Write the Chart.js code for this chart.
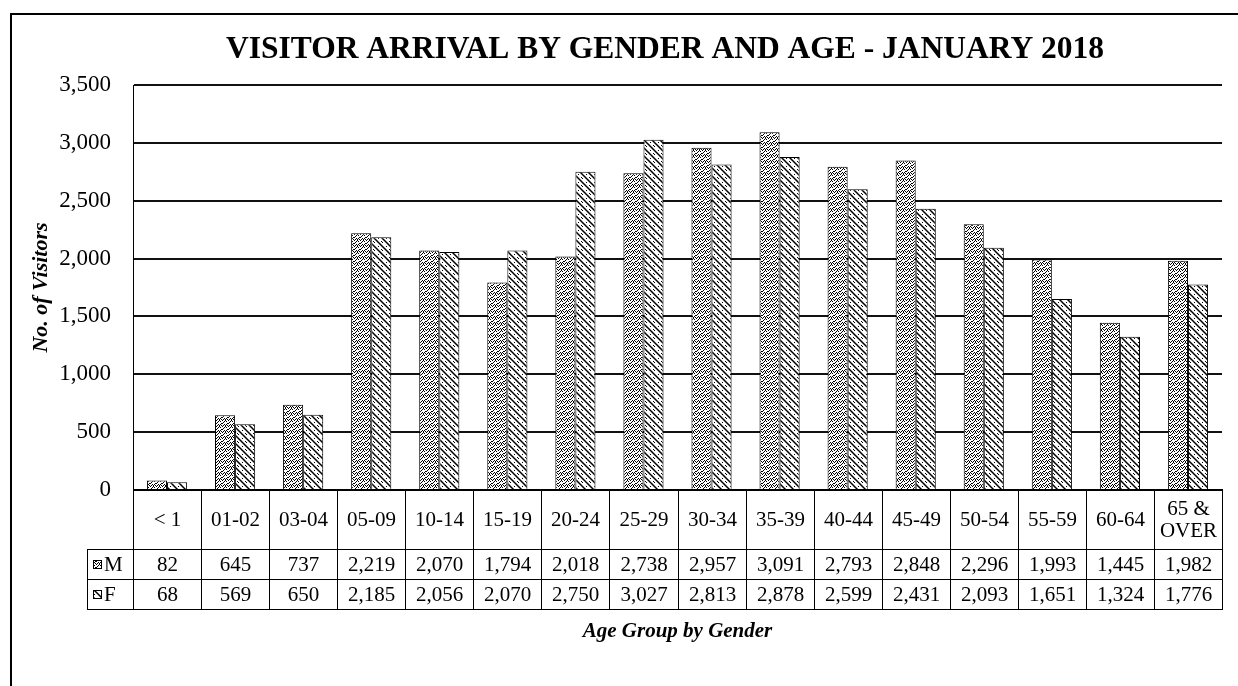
<!DOCTYPE html>
<html>
<head>
<meta charset="utf-8">
<script src="https://cdn.jsdelivr.net/npm/chart.js@4.4.1/dist/chart.umd.min.js"></script>
<style>
  html, body { margin: 0; padding: 0; background: #fff; }
  #wrap { width: 1238px; height: 686px; }
</style>
</head>
<body>
<div id="wrap"><canvas id="chart" width="1238" height="686"></canvas></div>
<script>
const ageGroups = ["< 1", "01-02", "03-04", "05-09", "10-14", "15-19", "20-24", "25-29",
  "30-34", "35-39", "40-44", "45-49", "50-54", "55-59", "60-64", ["65 &", "OVER"]];
const maleVisitors = [82, 645, 737, 2219, 2070, 1794, 2018, 2738, 2957, 3091, 2793, 2848, 2296, 1993, 1445, 1982];
const femaleVisitors = [68, 569, 650, 2185, 2056, 2070, 2750, 3027, 2813, 2878, 2599, 2431, 2093, 1651, 1324, 1776];
const yTicks = [0, 500, 1000, 1500, 2000, 2500, 3000, 3500];
const seriesNames = ["M", "F"];

const chartTitle = "VISITOR ARRIVAL BY GENDER AND AGE - JANUARY 2018";
const yTitle = "No. of Visitors";
const xTitle = "Age Group by Gender";

const serif = "'Liberation Serif', 'Times New Roman', serif";
const count = new Intl.NumberFormat("en-US");

// stipple for M, hatch + dots for F
function makePattern(size, draw) {
  const tile = document.createElement("canvas");
  tile.width = size;
  tile.height = size;
  const t = tile.getContext("2d");
  t.fillStyle = "#fff";
  t.fillRect(0, 0, size, size);
  t.fillStyle = "#000";
  t.strokeStyle = "#000";
  draw(t);
  return t.createPattern(tile, "repeat");
}

const malePattern = makePattern(6, (t) => {
  [[0, 0], [3, 0], [1, 2], [4, 1], [5, 3], [2, 4], [0, 3], [3, 5], [5, 5], [1, 5], [2, 1], [4, 4]]
    .forEach(([x, y]) => t.fillRect(x, y, 1, 1));
});

const femalePattern = makePattern(8, (t) => {
  t.lineWidth = 1.5;
  t.beginPath();
  t.moveTo(-2, -2); t.lineTo(10, 10);
  t.moveTo(-2, 6); t.lineTo(2, 10);
  t.moveTo(6, -2); t.lineTo(10, 2);
  t.stroke();
  t.fillRect(6, 2, 1, 1);
  t.fillRect(2, 6, 1, 1);
  t.fillRect(5, 1, 1, 1);
});

const patterns = [malePattern, femalePattern];

const decorPlugin = {
  id: "decor",
  afterDraw(chart) {
    const { ctx, chartArea, scales } = chart;
    const x = scales.x;
    const top = Math.round(chartArea.bottom);
    const rows = [top, top + 59, top + 89, top + 119];
    const tableLeft = 87;
    const right = Math.round(chartArea.right);
    const edges = ageGroups.map((_, i) => Math.round(x.getPixelForValue(i - 0.5)));
    edges.push(Math.round(x.getPixelForValue(ageGroups.length - 0.5)));

    ctx.save();
    // outer frame
    ctx.strokeStyle = "#000";
    ctx.lineWidth = 2;
    ctx.beginPath();
    ctx.moveTo(11, 686);
    ctx.lineTo(11, 14);
    ctx.lineTo(1238, 14);
    ctx.stroke();

    // title
    ctx.fillStyle = "#000";
    ctx.textAlign = "center";
    ctx.textBaseline = "middle";
    ctx.font = `bold 31.5px ${serif}`;
    ctx.fillText(chartTitle, 665, 50);

    // data table grid
    ctx.lineWidth = 1;
    ctx.beginPath();
    for (let r = 1; r < rows.length; r++) {
      ctx.moveTo(tableLeft, rows[r] + 0.5);
      ctx.lineTo(right + 1, rows[r] + 0.5);
    }
    edges.forEach((e) => {
      ctx.moveTo(e + 0.5, rows[0]);
      ctx.lineTo(e + 0.5, rows[3] + 1);
    });
    ctx.moveTo(tableLeft + 0.5, rows[1]);
    ctx.lineTo(tableLeft + 0.5, rows[3] + 1);
    ctx.stroke();

    ctx.lineWidth = 2;
    ctx.beginPath();
    ctx.moveTo(chartArea.left, top);
    ctx.lineTo(right + 1, top);
    ctx.stroke();

    // header labels
    ctx.font = `21px ${serif}`;
    ageGroups.forEach((label, i) => {
      const cx = (edges[i] + edges[i + 1]) / 2 + 0.5;
      if (Array.isArray(label)) {
        ctx.fillText(label[0], cx, (rows[0] + rows[1]) / 2 - 10);
        ctx.fillText(label[1], cx, (rows[0] + rows[1]) / 2 + 12);
      } else {
        ctx.fillText(label, cx, (rows[0] + rows[1]) / 2 + 1);
      }
    });

    // value rows
    [maleVisitors, femaleVisitors].forEach((values, s) => {
      const cy = (rows[s + 1] + rows[s + 2]) / 2 + 1;
      ctx.textAlign = "center";
      values.forEach((v, i) => {
        const cx = (edges[i] + edges[i + 1]) / 2 + 0.5;
        ctx.fillText(count.format(v), cx, cy);
      });
      // legend key
      ctx.fillStyle = patterns[s];
      ctx.fillRect(93, Math.round(cy) - 5, 9, 9);
      ctx.strokeStyle = "#000";
      ctx.lineWidth = 1;
      ctx.strokeRect(93.5, Math.round(cy) - 4.5, 8, 8);
      ctx.fillStyle = "#000";
      ctx.textAlign = "left";
      ctx.fillText(seriesNames[s], 104, cy);
    });

    // x axis title
    ctx.textAlign = "center";
    ctx.font = `italic bold 21px ${serif}`;
    ctx.fillText(xTitle, (chartArea.left + chartArea.right) / 2, 632);
    ctx.restore();
  },
};

new Chart(document.getElementById("chart"), {
  type: "bar",
  data: {
    labels: ageGroups,
    datasets: [
      {
        label: seriesNames[0],
        data: maleVisitors,
        backgroundColor: malePattern,
        borderColor: "#000",
        borderWidth: 1,
      },
      {
        label: seriesNames[1],
        data: femaleVisitors,
        backgroundColor: femalePattern,
        borderColor: "#000",
        borderWidth: 1,
      },
    ],
  },
  options: {
    responsive: false,
    animation: false,
    devicePixelRatio: 1,
    layout: { padding: { top: 85, left: 24, right: 16, bottom: 196 } },
    datasets: { bar: { barPercentage: 1, categoryPercentage: 0.59 } },
    plugins: {
      legend: { display: false },
      title: { display: false },
      tooltip: { enabled: false },
    },
    scales: {
      x: { display: false },
      y: {
        min: yTicks[0],
        max: yTicks[yTicks.length - 1],
        afterFit: (scale) => { scale.width = 109; },
        afterBuildTicks: (scale) => { scale.ticks = yTicks.map((v) => ({ value: v })); },
        ticks: {
          color: "#000",
          padding: 22,
          font: { family: serif, size: 23 },
          callback: (value) => count.format(value),
        },
        grid: { color: "#111", lineWidth: 2, drawTicks: false },
        border: { display: true, color: "#000", width: 1 },
        title: {
          display: true,
          text: yTitle,
          color: "#000",
          font: { family: serif, size: 22, weight: "bold", style: "italic" },
        },
      },
    },
  },
  plugins: [decorPlugin],
});
</script>
</body>
</html>
